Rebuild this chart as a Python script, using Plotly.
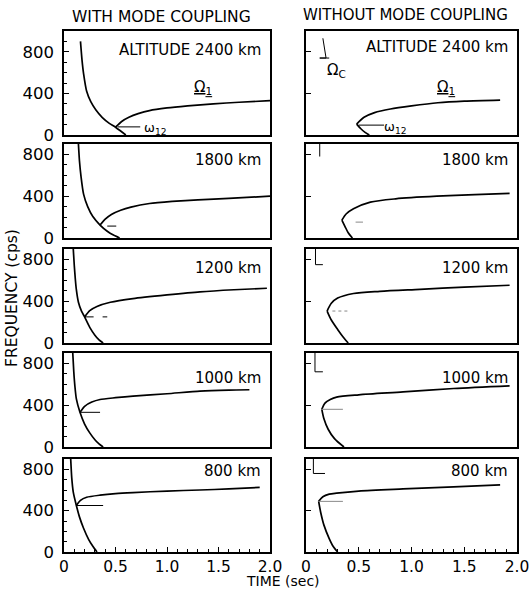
import plotly.graph_objects as go
from plotly.subplots import make_subplots

W, H = 530, 589

altitudes = ["ALTITUDE 2400 km", "1800 km", "1200 km", "1000 km", "800 km"]

# ---- WITH MODE COUPLING (left column) ----
L_desc_t = [
    [0.16, 0.175, 0.19, 0.22, 0.26, 0.31, 0.37, 0.44, 0.50, 0.55, 0.60],
    [0.14, 0.15, 0.165, 0.19, 0.23, 0.28, 0.35, 0.42, 0.48, 0.54],
    [0.09, 0.10, 0.11, 0.12, 0.14, 0.17, 0.20, 0.25, 0.30, 0.34, 0.38],
    [0.085, 0.095, 0.105, 0.12, 0.155, 0.20, 0.25, 0.30, 0.34, 0.38],
    [0.065, 0.075, 0.09, 0.12, 0.15, 0.19, 0.24, 0.28, 0.32],
]
L_desc_f = [
    [900, 720, 590, 420, 320, 240, 170, 112, 75, 38, 0],
    [900, 740, 590, 420, 300, 205, 124, 65, 28, 0],
    [900, 740, 610, 510, 390, 305, 250, 150, 75, 30, 0],
    [900, 720, 590, 460, 332, 220, 135, 70, 30, 0],
    [900, 720, 580, 450, 340, 230, 120, 55, 0],
]
L_rise_t = [
    [0.50, 0.56, 0.63, 0.72, 0.83, 1.00, 1.20, 1.45, 1.70, 2.00],
    [0.35, 0.40, 0.46, 0.55, 0.65, 0.83, 1.05, 1.30, 1.60, 2.00],
    [0.20, 0.25, 0.32, 0.45, 0.67, 1.00, 1.32, 1.65, 1.97],
    [0.155, 0.20, 0.27, 0.35, 0.50, 0.67, 1.00, 1.32, 1.60, 1.80],
    [0.12, 0.16, 0.22, 0.35, 0.50, 0.67, 1.00, 1.32, 1.60, 1.90],
]
L_rise_f = [
    [75, 130, 170, 205, 235, 260, 280, 300, 315, 330],
    [124, 180, 225, 265, 295, 330, 350, 365, 380, 400],
    [250, 310, 350, 390, 425, 460, 490, 510, 524],
    [332, 390, 430, 455, 472, 488, 510, 535, 545, 548],
    [450, 500, 530, 550, 565, 575, 590, 600, 610, 625],
]
# crossing marker lines (omega_12 level)
L_mark_t = [[0.52, 0.74], [0.42, 0.57], [0.20, 0.42], [0.155, 0.35], [0.12, 0.38]]
L_mark_f = [[78, 78], [114, 114], [250, 250], [332, 332], [450, 450]]

# ---- WITHOUT MODE COUPLING (right column) ----
R_up_t = [
    [0.48, 0.55, 0.65, 0.80, 1.00, 1.25, 1.50, 1.84],
    [0.34, 0.38, 0.45, 0.61, 0.85, 1.24, 1.60, 1.93],
    [0.20, 0.24, 0.30, 0.45, 0.70, 1.08, 1.50, 1.93],
    [0.15, 0.18, 0.23, 0.29, 0.50, 0.92, 1.40, 1.93],
    [0.12, 0.16, 0.22, 0.29, 0.50, 0.92, 1.40, 1.84],
]
R_up_f = [
    [105, 170, 215, 250, 280, 310, 325, 335],
    [171, 230, 280, 343, 375, 400, 415, 428],
    [306, 380, 430, 474, 495, 514, 535, 553],
    [361, 420, 455, 478, 500, 527, 560, 586],
    [490, 535, 560, 570, 590, 610, 630, 650],
]
R_low_t = [
    [0.48, 0.52, 0.56, 0.60],
    [0.34, 0.37, 0.40, 0.44],
    [0.20, 0.24, 0.30, 0.35, 0.40],
    [0.15, 0.17, 0.21, 0.27, 0.36],
    [0.12, 0.14, 0.17, 0.22, 0.26, 0.30],
]
R_low_f = [
    [105, 60, 25, 0],
    [171, 110, 50, 0],
    [306, 220, 130, 60, 0],
    [361, 270, 170, 80, 0],
    [490, 380, 260, 130, 50, 0],
]
R_mark_t = [[0.50, 0.74], [0.47, 0.54], [0.25, 0.40], [0.15, 0.35], [0.12, 0.35]]
R_mark_f = [[95, 95], [152, 152], [306, 306], [361, 361], [490, 490]]
# Omega_c markers
Oc_t = [[0.16, 0.19, 0.13, 0.22], [0.13, 0.13], [0.09, 0.09, 0.16],
        [0.085, 0.085, 0.16], [0.07, 0.07, 0.18]]
Oc_f = [[930, 740, 740, 740], [900, 780], [900, 750, 750],
        [900, 720, 720], [900, 760, 760]]

x_ticks = [0, 0.5, 1.0, 1.5, 2.0]
x_ticktext = ["0", "0.5", "1.0", "1.5", "2.0"]
y_ticks = [0, 400, 800]

cols_px = [(64, 270), (306, 517)]
rows_px = [(31, 135), (144, 238), (249, 343), (353, 447), (459, 552)]
y_max = [1000, 900, 900, 900, 900]

def fx(x):
    return x / W

def fy(y):
    return 1 - y / H

fig = make_subplots(rows=5, cols=2)

LINE = dict(color="black", width=1.7)
THIN = dict(color="black", width=1)
GRAY = dict(color="#888888", width=1)

for r in range(5):
    fig.add_trace(go.Scatter(x=L_desc_t[r], y=L_desc_f[r], mode="lines",
                             line=dict(LINE, shape="spline", smoothing=0.6)), row=r+1, col=1)
    fig.add_trace(go.Scatter(x=L_rise_t[r], y=L_rise_f[r], mode="lines",
                             line=dict(LINE, shape="spline", smoothing=0.6)), row=r+1, col=1)
    fig.add_trace(go.Scatter(x=L_mark_t[r], y=L_mark_f[r], mode="lines",
                             line=dict(THIN, dash="solid" if r in (0, 3, 4) else "dash")), row=r+1, col=1)
    fig.add_trace(go.Scatter(x=R_up_t[r], y=R_up_f[r], mode="lines",
                             line=dict(LINE, shape="spline", smoothing=0.8)), row=r+1, col=2)
    fig.add_trace(go.Scatter(x=R_low_t[r], y=R_low_f[r], mode="lines",
                             line=dict(LINE, shape="spline", smoothing=0.8)), row=r+1, col=2)
    fig.add_trace(go.Scatter(x=R_mark_t[r], y=R_mark_f[r], mode="lines",
                             line=THIN if r == 0 else dict(GRAY, dash="dot" if r == 2 else "solid")),
                  row=r+1, col=2)
    fig.add_trace(go.Scatter(x=Oc_t[r], y=Oc_f[r], mode="lines", line=THIN), row=r+1, col=2)

TICKFONT = dict(family="DejaVu Sans", size=15.5, color="black")

for r in range(5):
    for c in range(2):
        x0, x1 = cols_px[c]
        y0, y1 = rows_px[r]
        bottom = (r == 4)
        fig.update_xaxes(
            domain=[fx(x0), fx(x1)], range=[0, 2], row=r+1, col=c+1, automargin=False,
            showline=True, mirror=True, linecolor="black", linewidth=1.6,
            showgrid=False, zeroline=False,
            tickvals=x_ticks, ticktext=x_ticktext, showticklabels=bottom,
            ticks="inside" if bottom else "", ticklen=5, tickwidth=1, tickcolor="black",
            minor=dict(dtick=0.1, ticks="inside" if bottom else "", ticklen=3, tickcolor="black"),
            tickfont=TICKFONT, ticklabeloverflow="allow",
        )
        fig.update_yaxes(
            domain=[fy(y1), fy(y0)], range=[0, y_max[r]], row=r+1, col=c+1, automargin=False,
            showline=True, mirror=True, linecolor="black", linewidth=1.6,
            showgrid=False, zeroline=False,
            tickvals=y_ticks if c == 0 else [400, 800], showticklabels=(c == 0),
            ticks="inside", ticklen=5, tickwidth=1, tickcolor="black",
            minor=dict(dtick=100, ticks="inside" if c == 0 else "", ticklen=3, tickcolor="black"),
            tickfont=dict(TICKFONT, size=16.5), ticklabelstandoff=5,
        )

ann = []
TXT = dict(family="DejaVu Sans", color="black")
def add(text, x, y, size, xanchor="center", yanchor="middle", angle=0):
    ann.append(dict(text=text, x=fx(x), y=fy(y), xref="paper", yref="paper", showarrow=False,
                    xanchor=xanchor, yanchor=yanchor, textangle=angle,
                    font=dict(TXT, size=size)))

add("WITH MODE COUPLING", 161, 17, 15.5)
add("WITHOUT MODE COUPLING", 405, 15, 15)
add("FREQUENCY (cps)", 12, 298, 15.5, angle=-90)
add("TIME (sec)", 283, 581, 14)

alt_y = [50, 160, 268, 378, 471]
for r in range(5):
    add(altitudes[r], 263, alt_y[r], 15, xanchor="right")
    add(altitudes[r], 510, alt_y[r] - (3 if r == 0 else 0), 15, xanchor="right")

add("<u>Ω<sub>1</sub></u>", 203, 88, 15)
add("ω<sub>12</sub>", 155, 128, 13)
add("<u>Ω<sub>1</sub></u>", 446, 88, 15)
add("ω<sub>12</sub>", 395, 127, 13)
add("Ω<sub>C</sub>", 336, 70, 15)

fig.update_layout(
    width=W, height=H, margin=dict(l=0, r=0, t=0, b=0),
    paper_bgcolor="white", plot_bgcolor="white", showlegend=False,
    annotations=ann,
)

fig.write_html("out.html", config={"displayModeBar": False},
               post_script="document.body.style.margin='0px';")
